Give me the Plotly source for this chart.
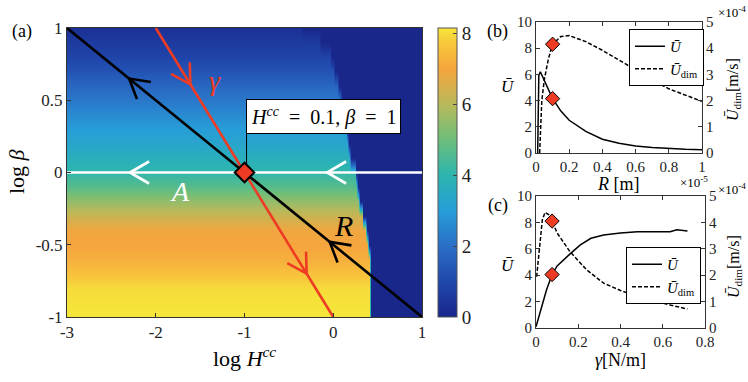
import numpy as np
import plotly.graph_objects as go

W, H = 748, 382
SERIF = "Liberation Serif"

# ---------------- Panel (a) data ----------------
log_beta_rows = [-1.0, -0.9, -0.8, -0.7, -0.6, -0.5, -0.4, -0.3, -0.2, -0.1, 0.0,
                 0.1, 0.2, 0.3, 0.4, 0.5, 0.6, 0.7, 0.8, 0.9, 1.0]
U_profile = [8.15, 8.1, 8.0, 7.6, 7.2, 7.0, 6.9, 6.3, 5.5, 4.7, 4.1,
             3.7, 3.3, 3.0, 2.6, 2.2, 1.8, 1.3, 0.9, 0.6, 0.3]
boundary_logH = [0.41, 0.41, 0.41, 0.41, 0.40, 0.38, 0.36, 0.335, 0.29, 0.27, 0.245,
                 0.19, 0.17, 0.145, 0.115, 0.09, 0.06, 0.01, -0.04, -0.15, -0.35]
U_outside = 0.0
logH_cols = np.linspace(-3, 1, 201)

x_ticks_a = [-3, -2, -1, 0, 1]
x_ticktext_a = ["-3", "-2", "-1", "0", "1"]
y_ticks_a = [-1, -0.5, 0, 0.5, 1]
y_ticktext_a = ["-1", "-0.5", "0", "0.5", "1"]
cb_ticks = [0, 2, 4, 6, 8]

# parameter paths (listed in direction of the arrows)
R_path_H, R_path_b = [1, -3], [-1, 1]
gamma_path_H, gamma_path_b = [-2, 0], [1, -1]
A_path_H, A_path_b = [1, -3], [0, 0]
R_arrow_tips = [-2.3, -0.04]
gamma_arrow_tips = [-1.61, -0.3]
A_arrow_tips = [-2.29, -0.07]
ref_point_H, ref_point_b = [-1.0], [0.0]

# ---------------- Panel (b) data (R in 1e-5 m, U_dim in 1e-4 m/s) ----------------
R_solid = [0.010, 0.017, 0.026, 0.05, 0.075, 0.1, 0.15, 0.2, 0.3, 0.4, 0.5, 0.6, 0.7, 0.8, 0.9, 1.0]
U_R = [0.0, 5.9, 6.2, 5.5, 4.8, 4.15, 3.2, 2.5, 1.65, 1.05, 0.75, 0.53, 0.42, 0.33, 0.28, 0.25]
R_dash = [0.022, 0.035, 0.05, 0.075, 0.1, 0.15, 0.2, 0.3, 0.4, 0.5, 0.6, 0.7, 0.8, 0.9, 1.0]
Udim_R = [0.0, 2.0, 2.8, 3.6, 4.15, 4.45, 4.48, 4.25, 3.92, 3.55, 3.15, 2.8, 2.45, 2.2, 1.97]
R_star, U_R_star, Udim_R_star = [0.1], [4.15], [4.15]

# ---------------- Panel (c) data ----------------
g_solid = [0.0, 0.027, 0.05, 0.076, 0.1, 0.16, 0.21, 0.26, 0.32, 0.4, 0.48, 0.56, 0.635, 0.667, 0.717]
U_g = [0.1, 1.6, 2.9, 4.05, 4.7, 5.6, 6.3, 6.8, 7.05, 7.2, 7.3, 7.3, 7.3, 7.45, 7.35]
g_dash = [0.003, 0.015, 0.03, 0.043, 0.06, 0.076, 0.1, 0.16, 0.24, 0.32, 0.4, 0.48, 0.56, 0.635, 0.717]
Udim_g = [1.94, 3.0, 4.1, 4.38, 4.3, 4.05, 3.6, 2.9, 2.2, 1.7, 1.42, 1.19, 1.02, 0.87, 0.72]
g_star, U_g_star, Udim_g_star = [0.076], [4.05], [4.05]

# ---------------- layout geometry ----------------
def px2x(p):
    return p / W

def px2y(p):
    return 1 - p / H

xa_dom = [px2x(67), px2x(422)]
ya_dom = [px2y(317), px2y(28)]
xb_dom = [px2x(536), px2x(702)]
yb_dom = [px2y(153), px2y(22)]
xc_dom = [px2x(536), px2x(705)]
yc_dom = [px2y(328), px2y(196)]
xa_rng, ya_rng = [-3, 1], [-1, 1]

px_per_x = (xa_dom[1] - xa_dom[0]) * W / (xa_rng[1] - xa_rng[0])
px_per_y = (ya_dom[1] - ya_dom[0]) * H / (ya_rng[1] - ya_rng[0])


def chevrons(path_x, path_y, tips, arm=22, half=30):
    dx = (path_x[1] - path_x[0]) * px_per_x
    dy = -(path_y[1] - path_y[0]) * px_per_y
    n = np.hypot(dx, dy)
    bx, by = -dx / n, -dy / n
    xs, ys = [], []
    for t in tips:
        f = (t - path_x[0]) / (path_x[1] - path_x[0]) if path_x[1] != path_x[0] else 0
        ty = path_y[0] + f * (path_y[1] - path_y[0])
        pts = []
        for s in (half, -half):
            a = np.radians(s)
            rx = bx * np.cos(a) - by * np.sin(a)
            ry = bx * np.sin(a) + by * np.cos(a)
            pts.append((t + arm * rx / px_per_x, ty - arm * ry / px_per_y))
        xs += [pts[0][0], t, pts[1][0], None]
        ys += [pts[0][1], ty, pts[1][1], None]
    return xs, ys


colorscale = [
    [0.0, "#19268a"], [0.123, "#2048ad"], [0.245, "#2a6ec6"], [0.368, "#279ed8"],
    [0.49, "#2cb5af"], [0.613, "#6dbe7a"], [0.736, "#b8b95a"], [0.859, "#f6a53e"],
    [0.95, "#f7c93b"], [1.0, "#f6e63a"],
]

Z = np.array([[u if h < b else U_outside for h in logH_cols]
              for u, b in zip(U_profile, boundary_logH)])

RED = "#ee3b24"
fig = go.Figure()

fig.add_trace(go.Heatmap(
    x=logH_cols, y=log_beta_rows, z=Z, zsmooth="best", zmin=0, zmax=8.15,
    colorscale=colorscale, xaxis="x", yaxis="y",
    colorbar=dict(x=px2x(438), xanchor="left", y=px2y(172.5), yanchor="middle",
                  len=289, lenmode="pixels", thickness=19, thicknessmode="pixels",
                  outlinewidth=1, outlinecolor="#555", ticks="inside", ticklen=4,
                  tickvals=cb_ticks, tickfont=dict(family=SERIF, size=19, color="#222"),
                  xpad=0, ypad=0),
    showlegend=False, hoverinfo="skip"))

line_w = 2.6
fig.add_trace(go.Scatter(x=A_path_H, y=A_path_b, mode="lines",
                         line=dict(color="white", width=line_w), showlegend=False))
cx, cy = chevrons(A_path_H, A_path_b, A_arrow_tips)
fig.add_trace(go.Scatter(x=cx, y=cy, mode="lines", line=dict(color="white", width=line_w),
                         showlegend=False))
fig.add_trace(go.Scatter(x=R_path_H, y=R_path_b, mode="lines",
                         line=dict(color="black", width=line_w), showlegend=False))
cx, cy = chevrons(R_path_H, R_path_b, R_arrow_tips)
fig.add_trace(go.Scatter(x=cx, y=cy, mode="lines", line=dict(color="black", width=line_w),
                         showlegend=False))
fig.add_trace(go.Scatter(x=gamma_path_H, y=gamma_path_b, mode="lines",
                         line=dict(color=RED, width=line_w), showlegend=False))
cx, cy = chevrons(gamma_path_H, gamma_path_b, gamma_arrow_tips)
fig.add_trace(go.Scatter(x=cx, y=cy, mode="lines", line=dict(color=RED, width=line_w),
                         showlegend=False))

# connector from reference point to the label box
box_center = (-0.115, 0.388)
box_bottom = 0.273
fig.add_trace(go.Scatter(x=[ref_point_H[0] + 0.023, ref_point_H[0] + 0.023],
                         y=[ref_point_b[0], box_bottom], mode="lines",
                         line=dict(color="black", width=1), showlegend=False))
fig.add_trace(go.Scatter(x=ref_point_H, y=ref_point_b, mode="markers",
                         marker=dict(symbol="diamond", size=15, color=RED,
                                     line=dict(color="black", width=2)),
                         showlegend=False))

# ---------------- Panel (b) ----------------
fig.add_trace(go.Scatter(x=R_solid, y=U_R, mode="lines", xaxis="x2", yaxis="y2",
                         line=dict(color="black", width=1.5), name="<i>Ū</i>",
                         legend="legend"))
fig.add_trace(go.Scatter(x=R_dash, y=Udim_R, mode="lines", xaxis="x2", yaxis="y3",
                         line=dict(color="black", width=1.5, dash="4px,2px"),
                         name="<i>Ū</i><sub>dim</sub>", legend="legend"))
fig.add_trace(go.Scatter(x=R_star, y=U_R_star, mode="markers", xaxis="x2", yaxis="y2",
                         marker=dict(symbol="diamond", size=11, color=RED,
                                     line=dict(color="black", width=1)), showlegend=False))
fig.add_trace(go.Scatter(x=R_star, y=Udim_R_star, mode="markers", xaxis="x2", yaxis="y3",
                         marker=dict(symbol="diamond", size=11, color=RED,
                                     line=dict(color="black", width=1)), showlegend=False))

# ---------------- Panel (c) ----------------
fig.add_trace(go.Scatter(x=g_solid, y=U_g, mode="lines", xaxis="x3", yaxis="y4",
                         line=dict(color="black", width=1.5), name="<i>Ū</i>",
                         legend="legend2"))
fig.add_trace(go.Scatter(x=g_dash, y=Udim_g, mode="lines", xaxis="x3", yaxis="y5",
                         line=dict(color="black", width=1.5, dash="4px,2px"),
                         name="<i>Ū</i><sub>dim</sub>", legend="legend2"))
fig.add_trace(go.Scatter(x=g_star, y=U_g_star, mode="markers", xaxis="x3", yaxis="y4",
                         marker=dict(symbol="diamond", size=11, color=RED,
                                     line=dict(color="black", width=1)), showlegend=False))
fig.add_trace(go.Scatter(x=g_star, y=Udim_g_star, mode="markers", xaxis="x3", yaxis="y5",
                         marker=dict(symbol="diamond", size=11, color=RED,
                                     line=dict(color="black", width=1)), showlegend=False))

tick_small = dict(family=SERIF, size=15, color="#222")
ax_common = dict(showline=True, linecolor="#333", linewidth=1, ticks="inside",
                 ticklen=4, tickcolor="#333", showgrid=False, zeroline=False,
                 automargin=False)

lay_axes = dict(
    xaxis=dict(domain=xa_dom, range=xa_rng, anchor="y", tickvals=x_ticks_a,
               ticktext=x_ticktext_a, mirror=True,
               tickfont=dict(family=SERIF, size=17, color="#222"), **ax_common),
    yaxis=dict(domain=ya_dom, range=ya_rng, anchor="x", tickvals=y_ticks_a,
               ticktext=y_ticktext_a, mirror=True,
               tickfont=dict(family=SERIF, size=17, color="#222"), **ax_common),
    xaxis2=dict(domain=xb_dom, range=[0, 1], anchor="y2", tickvals=[0, 0.2, 0.4, 0.6, 0.8, 1],
                ticktext=["0", "0.2", "0.4", "0.6", "0.8", "1"], mirror="ticks",
                tickfont=tick_small, **ax_common),
    yaxis2=dict(domain=yb_dom, range=[0, 10], anchor="x2", tickvals=[0, 2, 4, 6, 8, 10],
                tickfont=tick_small, **ax_common),
    yaxis3=dict(range=[0, 5], overlaying="y2", anchor="x2", side="right",
                tickvals=[0, 1, 2, 3, 4, 5], tickfont=tick_small, **ax_common),
    xaxis3=dict(domain=xc_dom, range=[0, 0.8], anchor="y4", tickvals=[0, 0.2, 0.4, 0.6, 0.8],
                ticktext=["0", "0.2", "0.4", "0.6", "0.8"], mirror="ticks",
                tickfont=tick_small, **ax_common),
    yaxis4=dict(domain=yc_dom, range=[0, 10], anchor="x3", tickvals=[0, 2, 4, 6, 8, 10],
                tickfont=tick_small, **ax_common),
    yaxis5=dict(range=[0, 5], overlaying="y4", anchor="x3", side="right",
                tickvals=[0, 1, 2, 3, 4, 5], tickfont=tick_small, **ax_common),
)

leg_common = dict(bgcolor="white", bordercolor="black", borderwidth=1,
                  font=dict(family=SERIF, size=15, color="black"), itemwidth=30,
                  xanchor="left", yanchor="top", tracegroupgap=0)

def pa(text, x, y, size, xanchor="center", yanchor="middle", **kw):
    d = dict(text=text, x=px2x(x), y=px2y(y), xref="paper", yref="paper",
             xanchor=xanchor, yanchor=yanchor,
             showarrow=False, font=dict(family=SERIF, size=size, color=kw.pop("color", "black")))
    d.update(kw)
    return d

annotations = [
    pa("(a)", 22, 32, 18),
    pa("(b)", 497, 32, 18),
    pa("(c)", 498, 205, 18),
    pa("log <i>β</i>", 17, 172, 22, textangle=-90),
    pa("log <i>H</i><sup><i>cc</i></sup>", 245, 357, 22),
    pa("<i>Ū</i>", 508, 87, 17),
    pa("<i>Ū</i>", 508, 265, 17),
    pa("<i>Ū</i><sub>dim</sub>[m/s]", 734, 90, 16, textangle=-90),
    pa("<i>Ū</i><sub>dim</sub>[m/s]", 734, 267, 16, textangle=-90),
    pa("×10<sup>-4</sup>", 716, 12, 13, xanchor="left"),
    pa("×10<sup>-4</sup>", 716, 189, 13, xanchor="left"),
    pa("×10<sup>-5</sup>", 678, 182, 13, xanchor="left"),
    pa("<i>R</i> [m]", 618, 184, 18),
    pa("<i>γ</i>[N/m]", 620, 360, 18),
    dict(text="<i>γ</i>", x=-1.33, y=0.64, xref="x", yref="y", showarrow=False,
         font=dict(family=SERIF, size=28, color=RED)),
    dict(text="<i>A</i>", x=-1.73, y=-0.13, xref="x", yref="y", showarrow=False,
         font=dict(family=SERIF, size=28, color="white")),
    dict(text="<i>R</i>", x=0.11, y=-0.37, xref="x", yref="y", showarrow=False,
         font=dict(family=SERIF, size=30, color="black")),
    dict(text="<i>H<sup>cc</sup></i>\u2002=\u20020.1, <i>β</i>\u2002=\u20021",
         x=box_center[0], y=box_center[1],
         xref="x", yref="y", showarrow=False, bgcolor="white", bordercolor="black",
         borderwidth=1, borderpad=4, font=dict(family=SERIF, size=20, color="black")),
]

fig.update_layout(
    width=W, height=H, margin=dict(l=0, r=0, t=0, b=0, autoexpand=False),
    paper_bgcolor="white", plot_bgcolor="white",
    font=dict(family=SERIF, color="black"),
    legend=dict(x=px2x(629), y=px2y(29), **leg_common),
    legend2=dict(x=px2x(626), y=px2y(247), **leg_common),
    annotations=annotations,
    **lay_axes,
)

fig.write_html("out.html")
